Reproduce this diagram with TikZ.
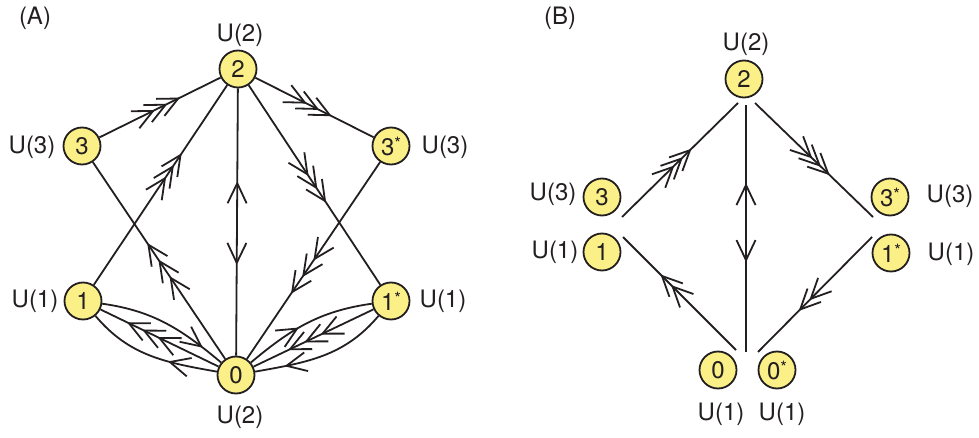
\documentclass[tikz,border=0pt]{standalone}
\usepackage{fontspec}
\setmainfont{TeX Gyre Heros}
\usetikzlibrary{decorations.markings}
\definecolor{nodeyellow}{RGB}{250,240,135}
\definecolor{ink}{RGB}{35,31,32}
\newcommand\lab{\fontsize{24}{28}\selectfont}
\newcommand\st{{\fontsize{17}{17}\selectfont\raisebox{6pt}{*}}}
\newcommand\chv[1]{\draw[ink,line width=1.8pt,line join=round] (#1*1pt-20pt,9.5pt) -- (#1*1pt,0pt) -- (#1*1pt-20pt,-9.5pt);}
\newcommand\chvr{\draw[ink,line width=1.8pt,line join=round] (20pt,9.5pt) -- (0pt,0pt) -- (20pt,-9.5pt);}
\tikzset{
 nd/.style={circle,draw=ink,line width=1.8pt,fill=nodeyellow,minimum size=37pt,inner sep=0pt,font=\lab,text=ink},
 lb/.style={font=\lab,text=ink,inner sep=0pt},
 ln/.style={draw=ink,line width=1.8pt},
 cha/.style={postaction={decorate},decoration={markings,mark=at position #1 with {\chv{0}}}},
 chb/.style 2 args={postaction={decorate},decoration={markings,mark=at position #1 with {\chv{0}\chv{-#2}}}},
 chc/.style 2 args={postaction={decorate},decoration={markings,mark=at position #1 with {\chv{0}\chv{-#2}\chv{-2*#2}}}},
 chr/.style={postaction={decorate},decoration={markings,mark=at position #1 with {\chvr}}},
}
\begin{document}
\begin{tikzpicture}[x=1pt,y=1pt]
\useasboundingbox (0,0) rectangle (979,437);
% ---------- Panel A ----------
\node[lb] (tA) at (35,419) {(A)};
\node[nd] (n2) at (238,368) {2};
\node[nd] (n3) at (82,291) {3};
\node[nd] (n3s) at (391,291) {3\st};
\node[nd] (n1) at (83,136) {1};
\node[nd] (n1s) at (391,136) {1\st};
\node[nd] (n0) at (236,62) {0};
\node[lb] (l2) at (240,402) {U(2)};
\node[lb] (l3) at (32,290) {U(3)};
\node[lb] (l3s) at (445,290) {U(3)};
\node[lb] (l1) at (35,136) {U(1)};
\node[lb] (l1s) at (443,136) {U(1)};
\node[lb] (l0) at (240,19.5) {U(2)};
\draw[ln,chc={0.65}{14}] (n3) -- (n2);
\draw[ln,chc={0.63}{14}] (n2) -- (n3s);
\draw[ln,chc={0.65}{14}] (n1) -- (n2);
\draw[ln,chc={0.58}{16}] (n2) -- (n1s);
\draw[ln,chc={0.58}{20}] (n0) -- (n3);
\draw[ln,chc={0.66}{20}] (n3s) -- (n0);
\draw[ln,postaction={decorate},decoration={markings,mark=at position 0.645 with {\chv{0}},mark=at position 0.347 with {\chvr}}] (n0) -- (n2);
\draw[ln,chc={0.76}{17}] (n0) -- (n1);
\draw[ln,chc={0.695}{18}] (n1s) -- (n0);
\draw[ln,cha={0.81}] (n1) to[out=-8,in=140] (n0);
\draw[ln,cha={0.35}] (n0) to[out=170,in=-50] (n1);
\draw[ln,cha={0.42}] (n0) to[out=40,in=188] (n1s);
\draw[ln,cha={0.77}] (n1s) to[out=-130,in=10] (n0);
% ---------- Panel B ----------
\node[lb] (tB) at (560,419) {(B)};
\node[nd] (m2) at (744,358) {2};
\node[nd] (m3) at (602,240) {3};
\node[nd] (m1) at (602,185) {1};
\node[nd] (m3s) at (890,240) {3\st};
\node[nd] (m1s) at (891,184) {1\st};
\node[nd] (m0) at (718,67) {0};
\node[nd] (m0s) at (777,67) {0\st};
\node[lb] (k2) at (746,393) {U(2)};
\node[lb] (k3) at (553,243) {U(3)};
\node[lb] (k1) at (555,185) {U(1)};
\node[lb] (k3s) at (950,241) {U(3)};
\node[lb] (k1s) at (951,183) {U(1)};
\node[lb] (k0) at (721,23) {U(1)};
\node[lb] (k0s) at (782,23) {U(1)};
\coordinate (cA1) at (622,220);
\coordinate (cA2) at (738,334);
\coordinate (cB1) at (755,334);
\coordinate (cB2) at (873,220);
\coordinate (cV1) at (746,332);
\coordinate (cV2) at (746,85);
\coordinate (cC1) at (736,87);
\coordinate (cC2) at (623,200);
\coordinate (cD1) at (872,200);
\coordinate (cD2) at (758,85);
\draw[ln,chc={0.586}{12}] (cA1) -- (cA2);
\draw[ln,chc={0.62}{12}] (cB1) -- (cB2);
\draw[ln,postaction={decorate},decoration={markings,mark=at position 0.676 with {\chv{0}},mark=at position 0.372 with {\chvr}}] (cV2) -- (cV1);
\draw[ln,chb={0.655}{15}] (cC1) -- (cC2);
\draw[ln,chb={0.63}{15}] (cD1) -- (cD2);
\end{tikzpicture}
\end{document}
